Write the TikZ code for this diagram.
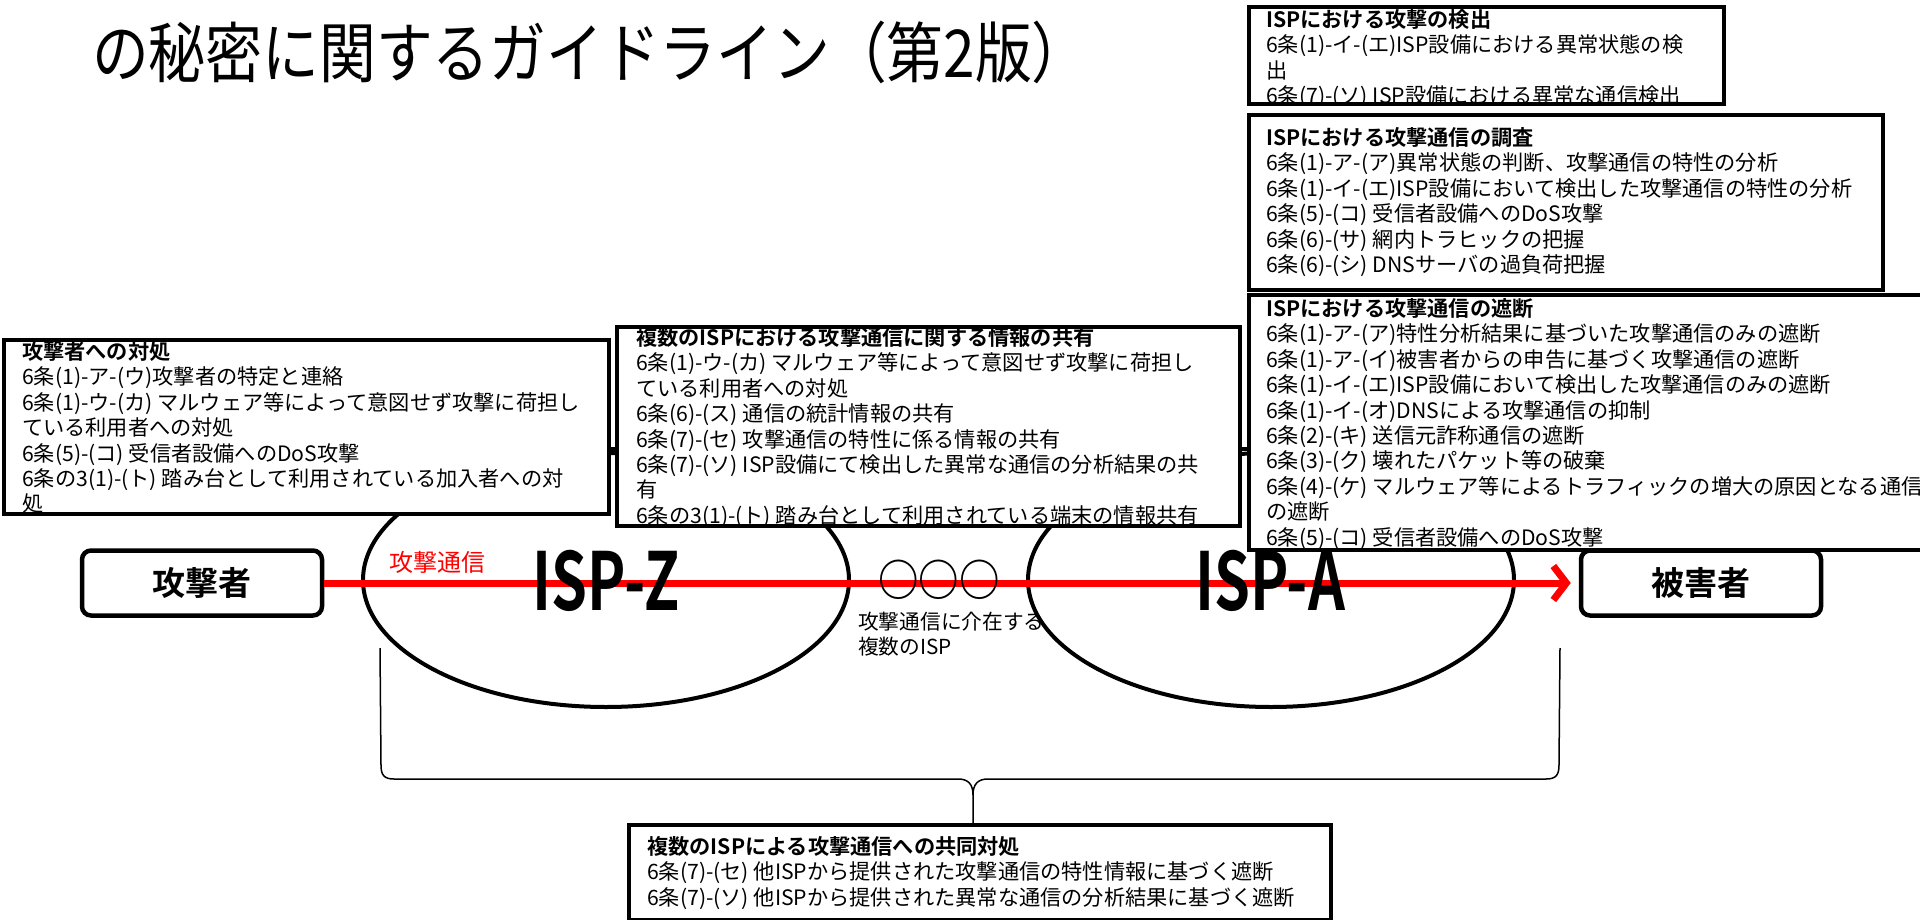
\documentclass[tikz,border=0pt]{standalone}
\usepackage{fontspec}
\setmainfont{Noto Sans CJK JP}[BoldFont={Noto Sans CJK JP Bold}]
\newfontfamily\titlefont{Noto Sans CJK JP}[FakeStretch=0.86]
\newfontfamily\ispfont{Noto Sans CJK JP Bold}[FakeStretch=0.72]
\newfontfamily\ringfont{Noto Sans CJK JP Bold}[FakeStretch=0.92]
\usetikzlibrary{arrows.meta,shapes.geometric}
\begin{document}
\begin{tikzpicture}[x=1pt,y=-1pt,
  infobox/.style={draw=black, line width=4pt, fill=white, inner sep=0pt, anchor=north west},
  txt/.style={anchor=north west, inner sep=0pt, align=left, font=\fontsize{21.2}{25.4}\selectfont},
  endbox/.style={draw=black, line width=4.5pt, fill=white, rounded corners=9pt, minimum width=240pt, minimum height=65pt, inner sep=0pt, font=\bfseries\fontsize{33}{33}\selectfont},
  ispell/.style={ellipse, draw=black, line width=4pt, minimum width=486pt, minimum height=254pt, inner sep=0pt},
  isplabel/.style={inner sep=0pt, font=\ispfont\fontsize{80}{80}\selectfont},
  bracel/.style={draw=black, line width=1.5pt},
  stub/.style={draw=black, line width=4pt}
]
\useasboundingbox (0,0) rectangle (1920,920);
\fill[white] (0,0) rectangle (1920,920);

% title
\node[anchor=west, inner sep=0pt, font=\titlefont\fontsize{66}{66}\selectfont] (title) at (92,52) {の秘密に関するガイドライン（第2版）};

% ellipses
\node[ispell] (ez) at (606,580) {};
\node[ispell] (ea) at (1271,580) {};

% connector stub behind boxes
\coordinate (s1) at (600,449);
\coordinate (s2) at (1256,449);
\draw[stub] (s1) -- (s2);

% end boxes and arrow
\node[endbox] (att) at (202,583) {攻撃者};
\node[endbox] (vic) at (1701,583) {被害者};
\draw[red, line width=7pt, -{Straight Barb[length=13pt,width=34pt]}, shorten >=8pt] (att.east) -- (vic.west);

\node[inner sep=0pt, text=red, font=\fontsize{24}{24}\selectfont] (lbl) at (437,562) {攻撃通信};
\node[isplabel] (lz) at (606,581) {ISP-Z};
\node[isplabel] (la) at (1270,581) {ISP-A};
\node[inner sep=0pt, font=\ringfont\fontsize{44}{44}\selectfont] (dots) at (939,580) {○○○};
\node[txt, font=\fontsize{20.7}{25}\selectfont] (mid) at (858,611.5) {攻撃通信に介在する\\複数のISP};

% box 1
\node[infobox, minimum width=475pt, minimum height=97pt] (b1) at (1247,5) {};
\begin{scope}
\clip ([shift={(2,2)}]b1.north west) rectangle ([shift={(-2,-2)}]b1.south east);
\node[txt] (t1) at (1266,9.3) {\textbf{ISPにおける攻撃の検出}\\6条(1)-イ-(エ)ISP設備における異常状態の検\\出\\6条(7)-(ソ) ISP設備における異常な通信検出};
\end{scope}

% box 2
\node[infobox, minimum width=634pt, minimum height=175pt] (b2) at (1247,113) {};
\begin{scope}
\clip ([shift={(2,2)}]b2.north west) rectangle ([shift={(-2,-2)}]b2.south east);
\node[txt] (t2) at (1266,127.3) {\textbf{ISPにおける攻撃通信の調査}\\6条(1)-ア-(ア)異常状態の判断、攻撃通信の特性の分析\\6条(1)-イ-(エ)ISP設備において検出した攻撃通信の特性の分析\\6条(5)-(コ) 受信者設備へのDoS攻撃\\6条(6)-(サ) 網内トラヒックの把握\\6条(6)-(シ) DNSサーバの過負荷把握};
\end{scope}

% box 3
\node[infobox, minimum width=700pt, minimum height=255pt] (b3) at (1247,293) {};
\begin{scope}
\clip ([shift={(2,2)}]b3.north west) rectangle ([shift={(-2,-2)}]b3.south east);
\node[txt] (t3) at (1266,298.3) {\textbf{ISPにおける攻撃通信の遮断}\\6条(1)-ア-(ア)特性分析結果に基づいた攻撃通信のみの遮断\\6条(1)-ア-(イ)被害者からの申告に基づく攻撃通信の遮断\\6条(1)-イ-(エ)ISP設備において検出した攻撃通信のみの遮断\\6条(1)-イ-(オ)DNSによる攻撃通信の抑制\\6条(2)-(キ) 送信元詐称通信の遮断\\6条(3)-(ク) 壊れたパケット等の破棄\\6条(4)-(ケ) マルウェア等によるトラフィックの増大の原因となる通信\\の遮断\\6条(5)-(コ) 受信者設備へのDoS攻撃};
\end{scope}

% box L
\node[infobox, minimum width=605pt, minimum height=174pt] (bL) at (2,338) {};
\begin{scope}
\clip ([shift={(2,2)}]bL.north west) rectangle ([shift={(-2,-2)}]bL.south east);
\node[txt] (tL) at (22,341.3) {\textbf{攻撃者への対処}\\6条(1)-ア-(ウ)攻撃者の特定と連絡\\6条(1)-ウ-(カ) マルウェア等によって意図せず攻撃に荷担し\\ている利用者への対処\\6条(5)-(コ) 受信者設備へのDoS攻撃\\6条の3(1)-(ト) 踏み台として利用されている加入者への対\\処};
\end{scope}

% box M
\node[infobox, minimum width=623pt, minimum height=199pt] (bM) at (615,325) {};
\begin{scope}
\clip ([shift={(2,2)}]bM.north west) rectangle ([shift={(-2,-2)}]bM.south east);
\node[txt] (tM) at (636,327.3) {\textbf{複数のISPにおける攻撃通信に関する情報の共有}\\6条(1)-ウ-(カ) マルウェア等によって意図せず攻撃に荷担し\\ている利用者への対処\\6条(6)-(ス) 通信の統計情報の共有\\6条(7)-(セ) 攻撃通信の特性に係る情報の共有\\6条(7)-(ソ) ISP設備にて検出した異常な通信の分析結果の共\\有\\6条の3(1)-(ト) 踏み台として利用されている端末の情報共有};
\end{scope}

% brace
\coordinate (brL) at (380,648);
\coordinate (brR) at (1560,648);
\coordinate (brT) at (973,823);
\draw[bracel] (brL) -- (381,765) .. controls (381,775) and (384,779) .. (394,779) -- (958,779) .. controls (968,779) and (973,784) .. (973,795) -- (brT);
\draw[bracel] (brR) -- (1559,765) .. controls (1559,775) and (1556,779) .. (1546,779) -- (988,779) .. controls (978,779) and (973,784) .. (973,795);

% bottom box
\node[infobox, minimum width=702pt, minimum height=95pt] (bB) at (627,823) {};
\begin{scope}
\clip ([shift={(2,2)}]bB.north west) rectangle ([shift={(-2,-2)}]bB.south east);
\node[txt] (tB) at (647,836.3) {\textbf{複数のISPによる攻撃通信への共同対処}\\6条(7)-(セ) 他ISPから提供された攻撃通信の特性情報に基づく遮断\\6条(7)-(ソ) 他ISPから提供された異常な通信の分析結果に基づく遮断};
\end{scope}
\end{tikzpicture}
\end{document}
